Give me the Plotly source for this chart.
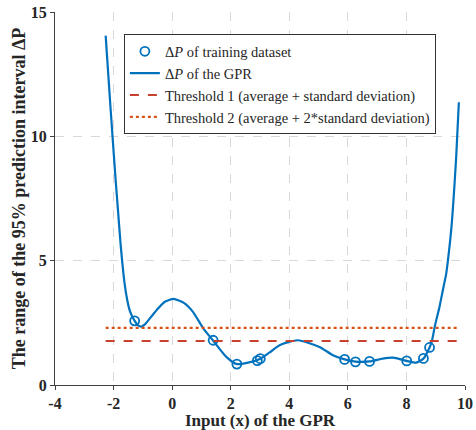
import plotly.graph_objects as go

# Training dataset ΔP
train_x = [-1.28, 1.40, 2.21, 2.91, 3.01, 5.89, 6.26, 6.74, 8.01, 8.58, 8.79]
train_y = [2.58, 1.80, 0.84, 0.98, 1.06, 1.03, 0.93, 0.95, 0.97, 1.07, 1.51]

# GPR ΔP curve
gpr_x = [-2.27, -2.10, -1.93, -1.85, -1.77, -1.70, -1.62, -1.53, -1.45, -1.36, -1.28,
         -1.18, -1.05, -0.92, -0.80, -0.54, -0.25, 0.05, 0.40,
         0.71, 1.05, 1.39, 1.85, 2.21, 2.59, 3.00, 3.33, 3.67, 4.29, 5.03, 5.49,
         5.89, 6.26, 6.74, 7.19, 7.54, 8.01, 8.33, 8.58, 8.79, 8.87, 8.96, 9.02,
         9.13, 9.25, 9.36, 9.46, 9.55, 9.63, 9.70, 9.79]
gpr_y = [14.05, 11.08, 8.25, 7.04, 5.80, 4.90, 4.05, 3.40, 3.00, 2.75, 2.58,
         2.42, 2.35, 2.45, 2.62, 3.00, 3.35, 3.46, 3.30,
         2.94, 2.30, 1.80, 1.13, 0.84, 0.90, 1.05, 1.31, 1.60, 1.80, 1.53, 1.20,
         1.03, 0.94, 0.95, 1.06, 1.10, 0.97, 0.90, 1.06, 1.51, 1.77, 2.30, 2.61,
         3.15, 3.85, 4.49, 5.45, 6.51, 7.85, 9.19, 11.37]

thr_x = [-2.27, 9.72]
thr1 = 1.77
thr2 = 2.30

x_ticks = [-4, -2, 0, 2, 4, 6, 8, 10]
x_ticklabels = ["-4", "-2", "0", "2", "4", "6", "8", "10"]
y_ticks = [0, 5, 10, 15]
y_ticklabels = ["0", "5", "10", "15"]

SERIF = "Liberation Serif, Times New Roman, serif"

fig = go.Figure()
fig.add_trace(go.Scatter(
    x=train_x, y=train_y, mode="markers", name="Δ<i>P</i> of training dataset",
    marker=dict(symbol="circle-open", size=9, color="#0072BD", line=dict(width=1.8, color="#0072BD"))))
fig.add_trace(go.Scatter(
    x=gpr_x, y=gpr_y, mode="lines", name="Δ<i>P</i> of the GPR",
    line=dict(color="#0072BD", width=2.2, shape="spline", smoothing=0.6)))
fig.add_trace(go.Scatter(
    x=thr_x, y=[thr1, thr1], mode="lines", name="Threshold 1 (average + standard deviation)",
    line=dict(color="#C8402E", width=2.2, dash="dash")))
fig.add_trace(go.Scatter(
    x=thr_x, y=[thr2, thr2], mode="lines", name="Threshold 2 (average + 2*standard deviation)",
    line=dict(color="#D95319", width=2.2, dash="dot")))

axis_common = dict(
    showgrid=True, gridcolor="#D8D8D8", griddash="dash", gridwidth=1,
    zeroline=False, showline=True, linecolor="#404040", linewidth=1,
    ticks="outside", ticklen=4, tickcolor="#404040", automargin=False,
    tickfont=dict(family=SERIF, size=16, color="#262626", weight="bold"),
)

fig.update_layout(
    width=476, height=430,
    margin=dict(l=55, r=11, t=12, b=45),
    paper_bgcolor="white", plot_bgcolor="white",
    font=dict(family=SERIF, color="#262626"),
    xaxis=dict(range=[-4, 10], tickvals=x_ticks,
               ticktext=["<b>%s</b>" % t for t in x_ticklabels],
               title=dict(text="<b>Input (x) of the GPR</b>",
                          font=dict(size=17, family=SERIF), standoff=4),
               **axis_common),
    yaxis=dict(range=[0, 15], tickvals=y_ticks,
               ticktext=["<b>%s</b>" % t for t in y_ticklabels],
               title=dict(text="<b>The range of the 95% prediction interval ΔP</b>",
                          font=dict(size=18, family=SERIF), standoff=0),
               **axis_common),
    legend=dict(x=0.168, y=0.94, xanchor="left", yanchor="top",
                bgcolor="white", bordercolor="#333333", borderwidth=1,
                font=dict(family=SERIF, size=14.5, color="#262626"),
                tracegroupgap=0, itemwidth=30),
    showlegend=True,
)

fig.write_html("out.html")
